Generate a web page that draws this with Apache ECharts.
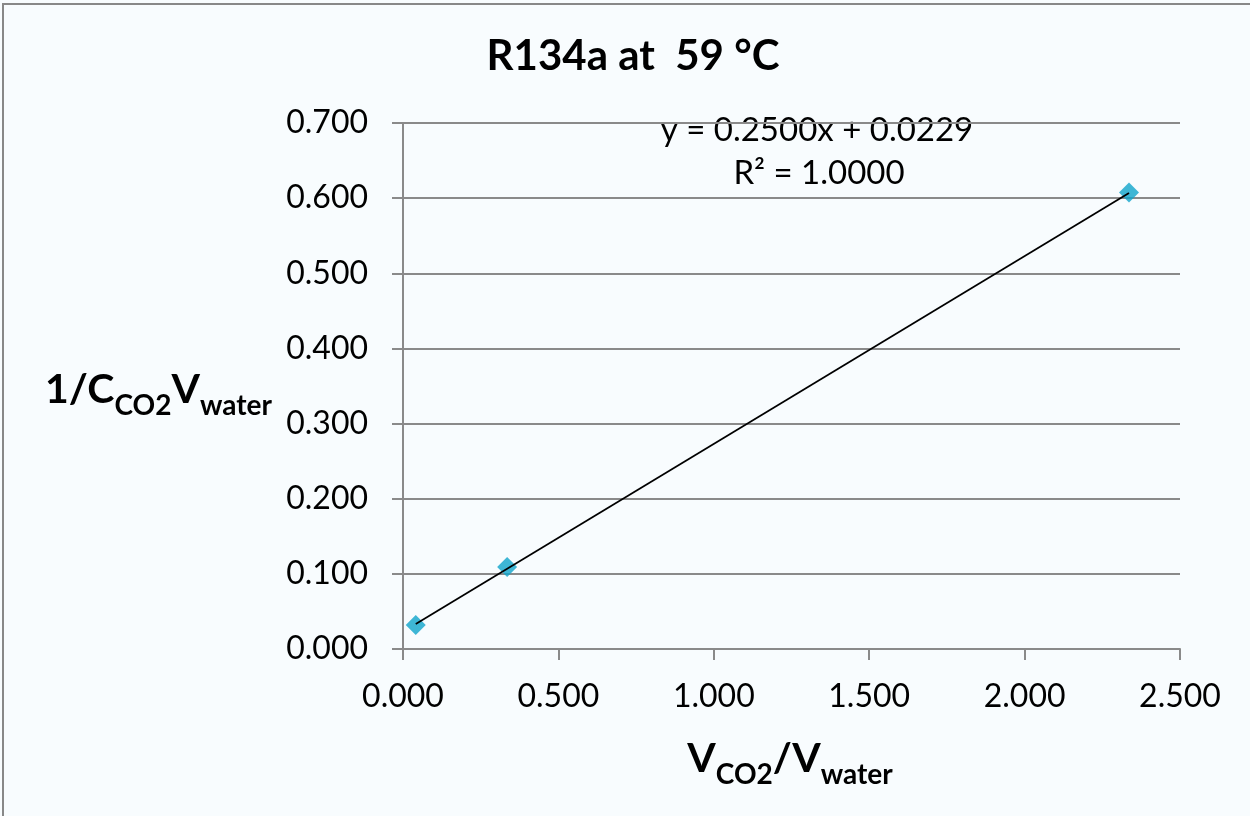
<!DOCTYPE html>
<html>
<head>
<meta charset="utf-8">
<script src="https://cdn.jsdelivr.net/npm/echarts@6/dist/echarts.min.js"></script>
<style>
html,body{margin:0;padding:0;background:#F8FCFE;}
#c{width:1250px;height:816px;}
</style>
</head>
<body>
<div id="c"></div>
<script>
// Data
var xValues = [0.041, 0.335, 2.336];
var yValues = [0.032, 0.109, 0.6076];
var trendSlope = 0.2500;
var trendIntercept = 0.0229;
var xTicks = ['0.000','0.500','1.000','1.500','2.000','2.500'];
var yTicks = ['0.000','0.100','0.200','0.300','0.400','0.500','0.600','0.700'];
var titleText = 'R134a at  59 °C';
var eqText = 'y = 0.2500x + 0.0229';
var r2Text = 'R² = 1.0000';
var yTitleParts = [['1/C', 0], ['CO2', 1], ['V', 0], ['water', 1]];
var xTitleParts = [['V', 0], ['CO2', 1], ['/V', 0], ['water', 1]];

var points = xValues.map(function(x,i){return [x, yValues[i]];});
var xMin = Math.min.apply(null, xValues), xMax = Math.max.apply(null, xValues);
var trend = [[xMin, trendSlope*xMin+trendIntercept],[xMax, trendSlope*xMax+trendIntercept]];

var FONT = 'Lato, "Open Sans", sans-serif';
var BIG = 41, SUB = 28, SUBDROP = 12, MID = 0.3225;
var mctx = document.createElement('canvas').getContext('2d');
function fontOf(sz){ return 'bold ' + sz + 'px ' + FONT; }
function subTitle(parts, x, baseline, align){
  var widths = parts.map(function(p){ mctx.font = fontOf(p[1] ? SUB : BIG); return mctx.measureText(p[0]).width; });
  var total = widths.reduce(function(a,b){return a+b;}, 0);
  var cx = align === 'center' ? x - total/2 : x;
  var els = [];
  parts.forEach(function(p, i){
    var sz = p[1] ? SUB : BIG;
    var base = baseline + (p[1] ? SUBDROP : 0);
    els.push({type: 'text', x: cx, y: base - MID*sz, silent: true,
      style: {text: p[0], font: fontOf(sz), fill: '#000', align: 'left', verticalAlign: 'middle'}});
    cx += widths[i];
  });
  return els;
}

var graphics = [
  {type: 'rect', shape: {x: 3, y: 4, width: 1300, height: 900}, silent: true,
   style: {fill: 'none', stroke: '#888', lineWidth: 2}, z: -1},
  {type: 'text', x: 817, y: 130, style: {text: eqText, font: '33px ' + FONT, fill: '#000', align: 'center', verticalAlign: 'middle'}},
  {type: 'text', x: 819, y: 173, style: {text: r2Text, font: '33px ' + FONT, fill: '#000', align: 'center', verticalAlign: 'middle'}}
].concat(subTitle(yTitleParts, 45, 403, 'left'), subTitle(xTitleParts, 790, 772, 'center'));

var chart = echarts.init(document.getElementById('c'));
chart.setOption({
  backgroundColor: '#F8FCFE',
  animation: false,
  title: {
    text: titleText, left: 628, top: 30, textAlign: 'center',
    textStyle: {fontFamily: FONT, fontWeight: 'bold', fontSize: 42, color: '#000'}
  },
  grid: {left: 403, right: 70, top: 123, bottom: 167, containLabel: false},
  xAxis: {
    type: 'value', min: 0, max: 2.5, interval: 0.5,
    axisLine: {show: true, onZero: false, lineStyle: {color: '#8A8A8A', width: 2}},
    axisTick: {show: true, length: 11, lineStyle: {color: '#8A8A8A', width: 2}},
    splitLine: {show: false},
    axisLabel: {fontFamily: FONT, fontSize: 32, color: '#000', margin: 32,
      formatter: function(v, i){ return xTicks[i]; }}
  },
  yAxis: {
    type: 'value', min: 0, max: 0.7, interval: 0.1,
    axisLine: {show: true, lineStyle: {color: '#8A8A8A', width: 2}},
    axisTick: {show: true, length: 11, lineStyle: {color: '#8A8A8A', width: 2}},
    splitLine: {show: true, lineStyle: {color: '#8A8A8A', width: 2}},
    axisLabel: {fontFamily: FONT, fontSize: 32, color: '#000', margin: 35,
      formatter: function(v, i){ return yTicks[i]; }}
  },
  series: [
    {type: 'line', data: trend, symbol: 'none', lineStyle: {color: '#000', width: 1.75}, z: 3},
    {type: 'scatter', data: points, symbol: 'diamond', symbolSize: [20, 20],
     itemStyle: {color: '#0FA4CB'}, z: 2}
  ],
  graphic: graphics
});
</script>
</body>
</html>
